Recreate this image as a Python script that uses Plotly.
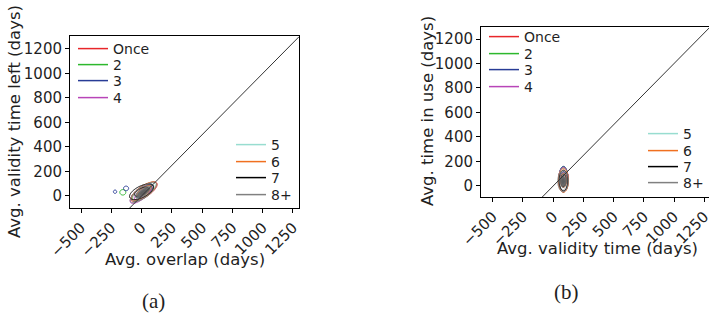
import numpy as np
import plotly.graph_objects as go

W, H = 709, 320

SERIES = ["Once", "2", "3", "4", "5", "6", "7", "8+"]
COLORS = ["#e8262a", "#2db82d", "#283c96", "#b845b8", "#98ddd0", "#f07020", "#000000", "#808080"]

X_TICKS = [-500, -250, 0, 250, 500, 750, 1000, 1250]
Y_TICKS = [0, 200, 400, 600, 800, 1000, 1200]
DIAG = [-100, 1300]

# KDE components per series: (cx, cy, sx, sy, rho, weight)
KDE_A = {
    "Once": [(20, 35, 55, 40, 0.75, 1.0)],
    "2": [(10, 25, 45, 33, 0.70, 1.0), (-155, 30, 20, 18, 0.0, 0.3)],
    "3": [(5, 30, 45, 35, 0.70, 1.0), (-219, 35, 11, 11, 0.0, 0.3), (-128, 62, 17, 15, 0.0, 0.3)],
    "4": [(-5, 15, 45, 38, 0.75, 1.0)],
    "5": [(15, 35, 50, 37, 0.75, 1.0)],
    "6": [(20, 40, 52, 38, 0.75, 1.0)],
    "7": [(0, 35, 50, 32, 0.60, 1.0)],
    "8+": [(15, 30, 55, 42, 0.78, 1.0)],
}
KDE_B = {
    "Once": [(85, 50, 20, 50, 0.0, 1.0)],
    "2": [(85, 55, 19, 52, 0.0, 1.0)],
    "3": [(85, 57, 19, 52, 0.0, 1.0)],
    "4": [(85, 53, 20, 50, 0.0, 1.0)],
    "5": [(85, 50, 19, 48, 0.0, 1.0)],
    "6": [(85, 45, 21, 48, 0.0, 1.0)],
    "7": [(85, 45, 18, 42, 0.0, 1.0)],
    "8+": [(82, 38, 22, 43, 0.0, 1.0)],
}
LEVELS = dict(start=0.14, end=0.5, size=0.36)

GRID_A = (np.arange(-290, 230, 4), np.arange(-130, 230, 4))
GRID_B = (np.arange(-10, 190, 3), np.arange(-120, 240, 3))


def density(comps, grid):
    gx, gy = np.meshgrid(grid[0], grid[1])
    z = np.zeros_like(gx, dtype=float)
    for cx, cy, sx, sy, r, w in comps:
        dx = (gx - cx) / sx
        dy = (gy - cy) / sy
        q = (dx * dx - 2 * r * dx * dy + dy * dy) / (1 - r * r)
        z += w * np.exp(-0.5 * q)
    return z


fig = go.Figure()
font_family = "DejaVu Sans"
txt = "#1f1f1f"

panels = [("x", "y", KDE_A, GRID_A), ("x2", "y2", KDE_B, GRID_B)]
for xa, ya, kde, grid in panels:
    # reference diagonal
    fig.add_trace(go.Scatter(x=DIAG, y=DIAG, mode="lines", line=dict(color="#333333", width=1),
                             xaxis=xa, yaxis=ya, showlegend=False, hoverinfo="skip"))
    for name, col in zip(SERIES, COLORS):
        z = density(kde[name], grid)
        if name == "8+":
            fig.add_trace(go.Contour(x=grid[0], y=grid[1], z=z, xaxis=xa, yaxis=ya,
                                     contours=dict(coloring="fill", start=0.3, end=0.9, size=0.3),
                                     zmin=0, zmax=1,
                                     colorscale=[[0, "rgba(100,100,100,0)"], [0.62, "rgba(100,100,100,0)"],
                                                 [0.63, "rgb(105,105,105)"], [1, "rgb(95,95,95)"]],
                                     line=dict(width=0.5, color="rgba(90,90,90,0.6)", smoothing=1),
                                     showscale=False, hoverinfo="skip", showlegend=False))
        fig.add_trace(go.Contour(x=grid[0], y=grid[1], z=z, xaxis=xa, yaxis=ya,
                                 contours=dict(coloring="lines", **LEVELS),
                                 colorscale=[[0, col], [1, col]],
                                 line=dict(width=1, smoothing=1),
                                 showscale=False, hoverinfo="skip", showlegend=False))

# legend entries: one legend per entry so positions match
LEG_POS = {
    "a": {"x_ul": 78, "ys_ul": [49, 65, 81, 98], "x_lr": 236, "ys_lr": [145, 162, 178, 195]},
    "b": {"x_ul": 489, "ys_ul": [37, 54, 70, 87], "x_lr": 648, "ys_lr": [134, 151, 167, 183]},
}
layout_legends = {}
li = 1
for p in ["a", "b"]:
    pos = LEG_POS[p]
    for i, (name, col) in enumerate(zip(SERIES, COLORS)):
        if i < 4:
            lx, ly = pos["x_ul"], pos["ys_ul"][i]
        else:
            lx, ly = pos["x_lr"], pos["ys_lr"][i - 4]
        key = "legend" if li == 1 else f"legend{li}"
        fig.add_trace(go.Scatter(x=[None], y=[None], mode="lines", name=name,
                                 line=dict(color=col, width=1.5), legend=key,
                                 xaxis="x" if p == "a" else "x2", yaxis="y" if p == "a" else "y2"))
        layout_legends[key] = dict(x=(lx - 5) / W, y=1 - ly / H, xanchor="left", yanchor="middle",
                                   bgcolor="rgba(0,0,0,0)", borderwidth=0,
                                   font=dict(family=font_family, size=14, color=txt))
        li += 1

axis_common = dict(showgrid=False, zeroline=False, showline=True, linecolor="black", linewidth=1,
                   mirror=True, ticks="outside", ticklen=4, tickcolor="black", automargin=False,
                   ticklabeloverflow="allow",
                   tickfont=dict(family=font_family, size=15, color=txt))

fig.update_layout(
    width=W, height=H, margin=dict(l=0, r=0, t=0, b=0, autoexpand=False),
    paper_bgcolor="white", plot_bgcolor="white",
    xaxis=dict(domain=[70 / W, 299 / W], range=[-591, 1300], tickvals=X_TICKS, tickangle=-45,
               anchor="y", **axis_common),
    yaxis=dict(domain=[1 - 208 / H, 1 - 36 / H], range=[-98, 1306], tickvals=Y_TICKS,
               anchor="x", **axis_common),
    xaxis2=dict(domain=[481 / W, 1.0], range=[-597, 1289], tickvals=X_TICKS, tickangle=-45,
                anchor="y2", **axis_common),
    yaxis2=dict(domain=[1 - 197 / H, 1 - 27 / H], range=[-90, 1298], tickvals=Y_TICKS,
                anchor="x2", **axis_common),
    **layout_legends,
)

ann = [
    dict(text="Avg. overlap (days)", x=185, y=259, angle=0, size=16.5, fam=font_family),
    dict(text="Avg. validity time left (days)", x=14, y=122, angle=-90, size=16.5, fam=font_family),
    dict(text="Avg. validity time (days)", x=597, y=248, angle=0, size=16.5, fam=font_family),
    dict(text="Avg. time in use (days)", x=427, y=111, angle=-90, size=16.5, fam=font_family),
    dict(text="(a)", x=153, y=301, angle=0, size=21, fam="Liberation Serif"),
    dict(text="(b)", x=566, y=292, angle=0, size=21, fam="Liberation Serif"),
]
for a in ann:
    fig.add_annotation(text=a["text"], x=a["x"] / W, y=1 - a["y"] / H, xref="paper", yref="paper",
                       showarrow=False, textangle=a["angle"], xanchor="center", yanchor="middle",
                       font=dict(family=a["fam"], size=a["size"], color=txt))

fig.write_html("out.html", config={"displayModeBar": False},
               post_script="document.body.style.margin='0';document.body.style.padding='0';document.body.style.overflow='hidden';")
